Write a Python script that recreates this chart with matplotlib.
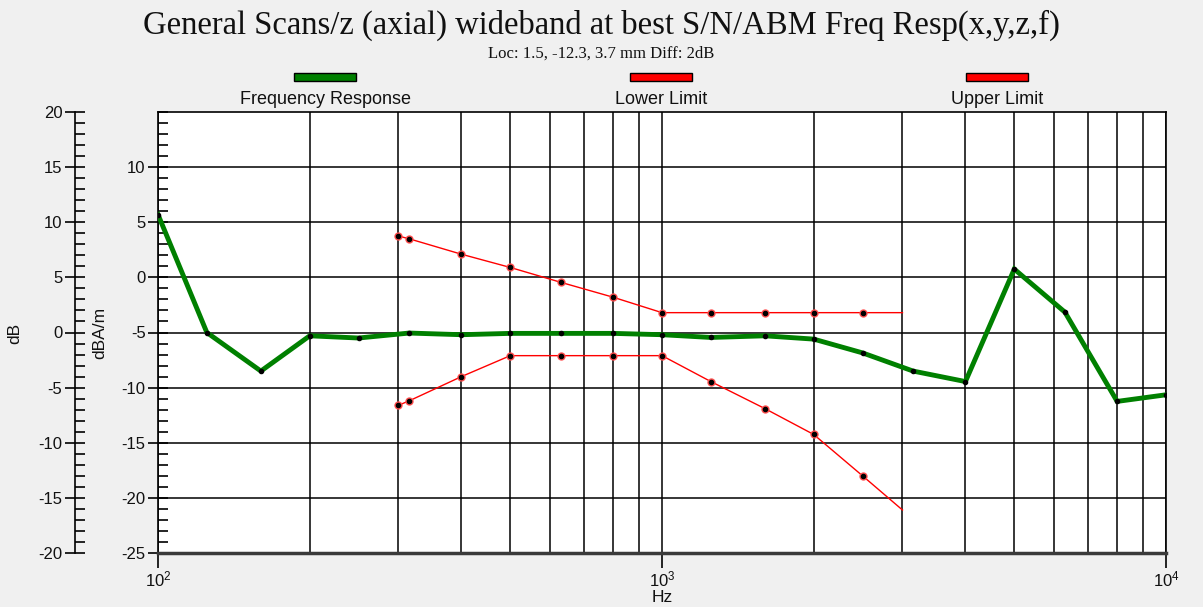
import matplotlib
matplotlib.use("Agg")
import matplotlib.pyplot as plt
from matplotlib.ticker import MultipleLocator, FixedLocator
from matplotlib.patches import Rectangle

plt.rcParams['font.family'] = ['Liberation Sans', 'DejaVu Sans']
plt.rcParams['axes.unicode_minus'] = False
plt.rcParams['mathtext.fontset'] = 'custom'
plt.rcParams['mathtext.rm'] = 'Liberation Sans'
plt.rcParams['mathtext.it'] = 'Liberation Sans:italic'

# frequency response (dBA/m)
freq_resp_hz = [100, 125, 160, 200, 250, 315, 400, 500, 630, 800, 1000,
                1250, 1600, 2000, 2500, 3150, 4000, 5000, 6300, 8000, 10000]
freq_resp_db = [5.7, -5.0, -8.5, -5.3, -5.5, -5.05, -5.2, -5.08, -5.08, -5.08, -5.2,
                -5.45, -5.3, -5.6, -6.85, -8.5, -9.45, 0.75, -3.15, -11.25, -10.65]

# limits
limit_hz = [300, 315, 400, 500, 630, 800, 1000, 1250, 1600, 2000, 2500, 3000]
upper_db = [3.75, 3.5, 2.1, 0.9, -0.45, -1.8, -3.2, -3.2, -3.2, -3.2, -3.2, -3.2]
lower_db = [-11.6, -11.2, -9.0, -7.1, -7.1, -7.1, -7.1, -9.45, -11.9, -14.25, -18.0, -21.1]

W, H = 1203, 607
fig = plt.figure(figsize=(W / 100, H / 100), dpi=100, facecolor='#f0f0f0')
txt = '#111111'

x0, x1, ytop, ybot = 158, 1166, 112, 553
ax = fig.add_axes([x0 / W, 1 - ybot / H, (x1 - x0) / W, (ybot - ytop) / H])
ax.set_facecolor('white')
ax.set_xscale('log')
ax.set_xlim(100, 10000)
ax.set_ylim(-25, 15)

# grid
ax.xaxis.set_minor_locator(FixedLocator([k * 10 ** e for e in (2, 3) for k in range(2, 10)]))
ax.grid(which='both', axis='x', color='black', lw=1.1, zorder=1)
ax.yaxis.set_major_locator(FixedLocator(list(range(-25, 11, 5))))
ax.yaxis.set_minor_locator(MultipleLocator(1))
ax.grid(which='major', axis='y', color='black', lw=1.1, zorder=1)
ax.set_axisbelow(True)

for s in ax.spines.values():
    s.set_color('black')
    s.set_linewidth(1.2)
ax.spines['bottom'].set_linewidth(2.5)
ax.spines['bottom'].set_color('#3a3a3a')

ax.tick_params(axis='y', which='major', direction='inout', length=14, width=1.2,
               labelsize=12, labelcolor=txt, pad=2)
ax.tick_params(axis='y', which='minor', direction='in', length=7, width=1.2)
ax.tick_params(axis='x', which='major', direction='out', length=11, width=1.2,
               labelsize=12, labelcolor=txt, pad=1)
ax.tick_params(axis='x', which='minor', length=0)
ax.set_xticks([100, 1000, 10000])
ax.set_xticklabels(['$10^2$', '$10^3$', '$10^4$'])
ax.set_xlabel('Hz', fontsize=12.5, color=txt, labelpad=0)
ax.set_ylabel('dBA/m', fontsize=12.5, color=txt)
ax.yaxis.set_label_coords(107 / W, 1 - 333 / H, transform=fig.transFigure)

# limit lines
for vals in (upper_db, lower_db):
    ax.plot(limit_hz, vals, color='#ff0000', lw=1.0, zorder=3)
    ax.plot(limit_hz[:-1], vals[:-1], ls='none', marker='o', ms=6,
            color='#ff5050', mec='none', zorder=4)
    ax.plot(limit_hz[:-1], vals[:-1], ls='none', marker='o', ms=3,
            color='black', zorder=5)

# frequency response
ax.plot(freq_resp_hz, freq_resp_db, color='#008000', lw=3.5, zorder=6,
        solid_joinstyle='miter')
ax.plot(freq_resp_hz, freq_resp_db, ls='none', marker='o', ms=3,
        color='black', zorder=7)

# outer dB axis
ax2 = fig.add_axes([75 / W, 1 - ybot / H, 0.0001, (ybot - ytop) / H])
ax2.set_ylim(-20, 20)
ax2.patch.set_visible(False)
for k in ('top', 'right', 'bottom'):
    ax2.spines[k].set_visible(False)
ax2.spines['left'].set_linewidth(1.2)
ax2.set_xticks([])
ax2.yaxis.set_major_locator(MultipleLocator(5))
ax2.yaxis.set_minor_locator(MultipleLocator(1))
ax2.tick_params(axis='y', which='major', direction='inout', length=14, width=1.2,
                labelsize=12, labelcolor=txt, pad=2)
ax2.tick_params(axis='y', which='minor', direction='in', length=7, width=1.2)
ax2.set_ylabel('dB', fontsize=12.5, color=txt)
ax2.yaxis.set_label_coords(22 / W, 1 - 333 / H, transform=fig.transFigure)

# title
fig.text(0.5, 1 - 25 / H, 'General Scans/z (axial) wideband at best S/N/ABM Freq Resp(x,y,z,f)',
         ha='center', va='center', fontsize=23.5, family='Liberation Serif', color=txt)
fig.text(0.5, 1 - 54 / H, 'Loc: 1.5, -12.3, 3.7 mm Diff: 2dB',
         ha='center', va='center', fontsize=12, family='Liberation Serif', color=txt)

# legend
legend = [('Frequency Response', '#008000', 325), ('Lower Limit', '#ff0000', 661),
          ('Upper Limit', '#ff0000', 997)]
for label, col, cx in legend:
    fig.patches.append(Rectangle(((cx - 31) / W, 1 - 81 / H), 62 / W, 8 / H,
                                 transform=fig.transFigure, facecolor=col,
                                 edgecolor='black', lw=1.0))
    fig.text(cx / W, 1 - 99 / H, label, ha='center', va='center', fontsize=13,
             color=txt)

fig.savefig('out.png', dpi=100, facecolor=fig.get_facecolor())
